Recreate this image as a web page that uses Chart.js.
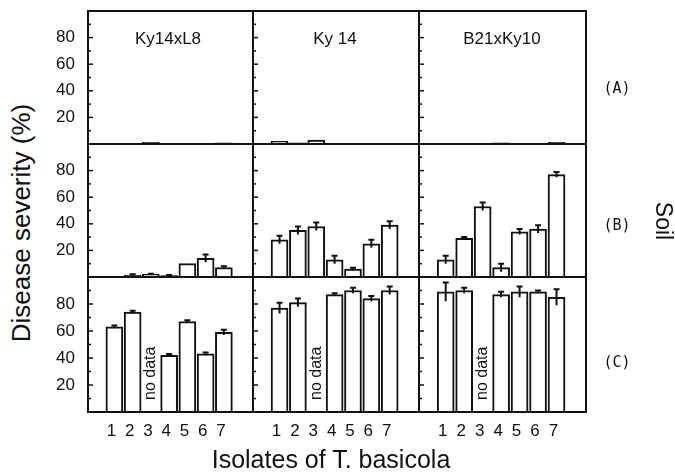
<!DOCTYPE html>
<html>
<head>
<meta charset="utf-8">
<script src="https://cdn.jsdelivr.net/npm/chart.js@4.4.1/dist/chart.umd.min.js"></script>
<style>
  html, body { margin: 0; padding: 0; background: #fff; }
  #wrap { position: relative; width: 675px; height: 472px; overflow: hidden;
          font-family: "Liberation Sans", Arial, sans-serif; color: #111; }
  #wrap canvas { position: absolute; }
  .txt { position: absolute; white-space: nowrap; line-height: 1; }
</style>
</head>
<body>
<div id="wrap"></div>
<script>
    "use strict";

    // Data
    const isolates = [1, 2, 3, 4, 5, 6, 7];
    const cultivars = ["Ky14xL8", "Ky 14", "B21xKy10"];
    const soils = ["(A)", "(B)", "(C)"];
    const yTicks = [20, 40, 60, 80];

    // soil A
    const meanA_Ky14xL8 = [0, 0, 1.2, 0, 0, 0, 0.8];
    const errA_Ky14xL8  = [0, 0, 0, 0, 0, 0, 0];
    const meanA_Ky14    = [2, 0.8, 3, 0.5, 0.5, 0.5, 0.5];
    const errA_Ky14     = [0, 0, 0, 0, 0, 0, 0];
    const meanA_B21xKy10 = [0, 0, 0.5, 0.8, 0.3, 0, 1.2];
    const errA_B21xKy10  = [0, 0, 0, 0, 0, 0, 0];

    // soil B
    const meanB_Ky14xL8 = [0, 1.5, 2, 1, 10, 14, 7];
    const errB_Ky14xL8  = [0, 0.5, 0.5, 0.5, 0, 3, 1];
    const meanB_Ky14    = [28, 35, 38, 13, 6, 25, 39];
    const errB_Ky14     = [3, 3, 3, 3, 1, 3, 3];
    const meanB_B21xKy10 = [13, 29, 53, 7, 34, 36, 77];
    const errB_B21xKy10  = [3, 1, 3, 3, 2, 3, 2];

    // soil C (null = no data)
    const meanC_Ky14xL8 = [63, 74, null, 42, 67, 43, 59];
    const errC_Ky14xL8  = [1, 1, 0, 1, 1, 1, 2];
    const meanC_Ky14    = [77, 81, null, 87, 90, 84, 90];
    const errC_Ky14     = [4, 3, 0, 1, 2, 2, 3];
    const meanC_B21xKy10 = [89, 90, null, 87, 89, 89, 85];
    const errC_B21xKy10  = [7, 2, 0, 2, 4, 1, 6];

    const panels = [
        [[meanA_Ky14xL8, errA_Ky14xL8], [meanA_Ky14, errA_Ky14], [meanA_B21xKy10, errA_B21xKy10]],
        [[meanB_Ky14xL8, errB_Ky14xL8], [meanB_Ky14, errB_Ky14], [meanB_B21xKy10, errB_B21xKy10]],
        [[meanC_Ky14xL8, errC_Ky14xL8], [meanC_Ky14, errC_Ky14], [meanC_B21xKy10, errC_B21xKy10]]
    ];

    const ink = "#111";
    const family = "'Liberation Sans', Arial, sans-serif";

    // panel grid (px)
    const colL = [88, 253, 419], colR = [253, 419, 586];
    const rowT = [11, 144, 277], rowB = [144, 277, 412];
    const m = 3, yAxisW = 46, xAxisH = 30;

    const wrap = document.getElementById("wrap");

    // no label overhang padding, so every chart area lines up with its box
    const noOverhang = (s) => {
        s.paddingTop = 0; s.paddingBottom = 0;
        s.paddingLeft = 0; s.paddingRight = 0;
    };

    // error bars, inner ticks, frame, "no data"
    const panelDeco = {
        id: "panelDeco",
        afterDatasetsDraw(chart, args, opts) {
            const { ctx, chartArea: a } = chart;
            const x = chart.scales.x, y = chart.scales.y;
            ctx.save();
            ctx.strokeStyle = ink;
            ctx.lineWidth = 2;
            opts.mean.forEach((v, i) => {
                const e = opts.err[i];
                if (v === null || !e) return;
                const px = x.getPixelForValue(isolates[i]);
                const yTop = y.getPixelForValue(v + e);
                const yBot = y.getPixelForValue(Math.max(0, v - e));
                ctx.beginPath();
                ctx.moveTo(px, yBot); ctx.lineTo(px, yTop);
                ctx.moveTo(px - 3, yTop); ctx.lineTo(px + 3, yTop);
                ctx.stroke();
            });

            ctx.lineWidth = 1.5;
            for (let v = 10; v < 100; v += 10) {
                const py = y.getPixelForValue(v);
                const len = v % 20 === 0 ? 5 : 3;
                ctx.beginPath();
                ctx.moveTo(a.left, py); ctx.lineTo(a.left + len, py);
                ctx.stroke();
            }

            ctx.lineWidth = 2;
            ctx.strokeRect(a.left, a.top, a.right - a.left, a.bottom - a.top);

            opts.mean.forEach((v, i) => {
                if (v !== null) return;
                const px = x.getPixelForValue(isolates[i]);
                ctx.save();
                ctx.translate(px, a.bottom - 12);
                ctx.rotate(-Math.PI / 2);
                ctx.fillStyle = ink;
                ctx.font = "16px " + family;
                ctx.textAlign = "left";
                ctx.textBaseline = "middle";
                ctx.fillText("no data", 0, 0);
                ctx.restore();
            });
            ctx.restore();
        }
    };

    panels.forEach((row, r) => {
        row.forEach(([mean, err], c) => {
            const isLeft = c === 0, isBottom = r === 2;
            const cv = document.createElement("canvas");
            const w = colR[c] - colL[c] + 2 * m + (isLeft ? yAxisW : 0);
            const h = rowB[r] - rowT[r] + 2 * m + (isBottom ? xAxisH : 0);
            cv.width = w; cv.height = h;
            cv.style.left = (colL[c] - m - (isLeft ? yAxisW : 0)) + "px";
            cv.style.top = (rowT[r] - m) + "px";
            wrap.appendChild(cv);

            new Chart(cv.getContext("2d"), {
                type: "bar",
                data: {
                    datasets: [{
                        data: isolates.map((v, i) => ({ x: v, y: mean[i] })),
                        backgroundColor: "#fff",
                        borderColor: ink,
                        borderWidth: 2,
                        barThickness: 17
                    }]
                },
                options: {
                    responsive: false,
                    animation: false,
                    layout: { padding: { left: m, right: m, top: m, bottom: m } },
                    plugins: {
                        legend: { display: false },
                        tooltip: { enabled: false },
                        panelDeco: { mean: mean, err: err }
                    },
                    scales: {
                        x: {
                            type: "linear",
                            min: 0.2,
                            max: 7.95,
                            afterBuildTicks: (s) => { s.ticks = isolates.map(v => ({ value: v })); },
                            afterFit: (s) => { s.height = isBottom ? xAxisH : 0; noOverhang(s); },
                            grid: { display: false },
                            border: { display: false },
                            ticks: {
                                display: isBottom,
                                autoSkip: false,
                                maxRotation: 0,
                                padding: 1,
                                labelOffset: -3,
                                color: ink,
                                font: { size: 17, family: family }
                            }
                        },
                        y: {
                            min: 0,
                            max: 100,
                            afterBuildTicks: (s) => { s.ticks = yTicks.map(v => ({ value: v })); },
                            afterFit: (s) => { s.width = isLeft ? yAxisW : 0; noOverhang(s); },
                            grid: { display: false },
                            border: { display: false },
                            ticks: {
                                display: isLeft,
                                padding: 5,
                                color: ink,
                                font: { size: 17, family: family }
                            }
                        }
                    }
                },
                plugins: [panelDeco]
            });
        });
    });

    // Texts
    const addText = (str, x, y, size, rot, font) => {
        const d = document.createElement("div");
        d.className = "txt";
        d.textContent = str;
        d.style.left = x + "px";
        d.style.top = y + "px";
        d.style.fontSize = size + "px";
        if (font) d.style.fontFamily = font;
        d.style.transform = "translate(-50%, -50%)" + (rot ? " rotate(" + rot + "deg)" : "");
        wrap.appendChild(d);
    };

    const titleX = [168, 335, 502];
    cultivars.forEach((t, i) => addText(t, titleX[i], 38, 17));
    const soilY = [88, 225, 362];
    soils.forEach((t, i) => addText(t, 617, soilY[i], 15, 0, "'DejaVu Sans Mono', monospace"));
    addText("Disease severity (%)", 21, 223, 26, -90);
    addText("Isolates of T. basicola", 331, 459, 25);
    addText("Soil", 663, 221, 23, 90);
</script>
</body>
</html>
